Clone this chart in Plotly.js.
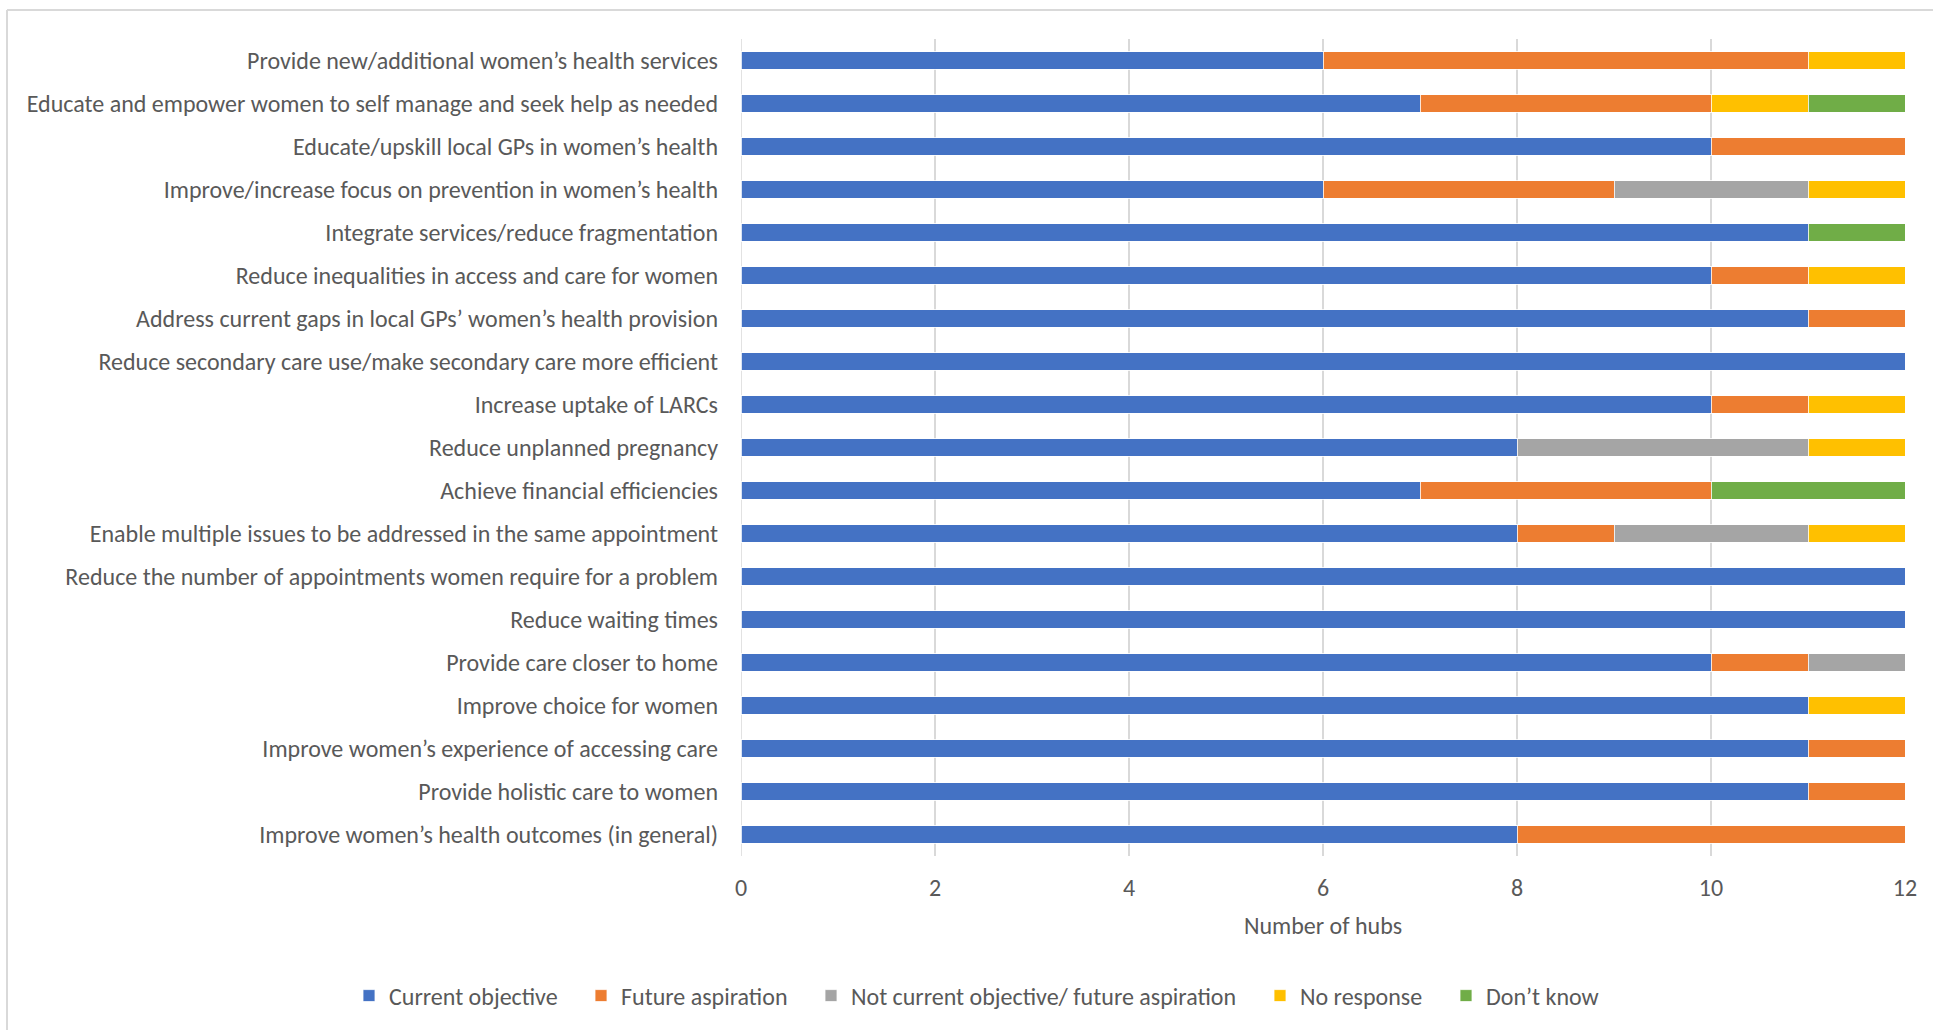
<!DOCTYPE html>
<html>
<head>
<meta charset="utf-8">
<script src="https://cdn.plot.ly/plotly-3.0.1.min.js"></script>
<style>
  html, body { margin: 0; padding: 0; background: #ffffff; }
  #chart { width: 1933px; height: 1030px; }
</style>
</head>
<body>
<div id="chart"></div>
<script>
// Hub objectives, listed top to bottom
const objectives = [
  "Provide new/additional women\u2019s health services",
  "Educate and empower women to self manage and seek help as needed",
  "Educate/upskill local GPs in women\u2019s health",
  "Improve/increase focus on prevention in women\u2019s health",
  "Integrate services/reduce fragmentation",
  "Reduce inequalities in access and care for women",
  "Address current gaps in local GPs\u2019 women\u2019s health provision",
  "Reduce secondary care use/make secondary care more efficient",
  "Increase uptake of LARCs",
  "Reduce unplanned pregnancy",
  "Achieve financial efficiencies",
  "Enable multiple issues to be addressed in the same appointment",
  "Reduce the number of appointments women require for a problem",
  "Reduce waiting times",
  "Provide care closer to home",
  "Improve choice for women",
  "Improve women\u2019s experience of accessing care",
  "Provide holistic care to women",
  "Improve women\u2019s health outcomes (in general)"
];

// Number of hubs per response, same order as objectives
const currentObjective = [6, 7, 10, 6, 11, 10, 11, 12, 10, 8, 7, 8, 12, 12, 10, 11, 11, 11, 8];
const futureAspiration = [5, 3, 2, 3, 0, 1, 1, 0, 1, 0, 3, 1, 0, 0, 1, 0, 1, 1, 4];
const notCurrentOrFuture = [0, 0, 0, 2, 0, 0, 0, 0, 0, 3, 0, 2, 0, 0, 1, 0, 0, 0, 0];
const noResponse = [1, 1, 0, 1, 0, 1, 0, 0, 1, 1, 0, 1, 0, 0, 0, 1, 0, 0, 0];
const dontKnow = [0, 1, 0, 0, 1, 0, 0, 0, 0, 0, 2, 0, 0, 0, 0, 0, 0, 0, 0];

const seriesNames = [
  "Current objective",
  "Future aspiration",
  "Not current objective/ future aspiration",
  "No response",
  "Don\u2019t know"
];
const seriesColors = ["#4472C4", "#ED7D31", "#A5A5A5", "#FFC000", "#70AD47"];
const seriesValues = [currentObjective, futureAspiration, notCurrentOrFuture, noResponse, dontKnow];

const FONT = "Carlito, Calibri, 'Liberation Sans Narrow', Roboto, sans-serif";
const TEXT = "#595959";

// Plot area in pixels: left 741, right 1905, top 39, bottom 856
const L = 741, R = 1905, T = 39, B = 856, W = 1933, H = 1030;
const px = v => (v - L) / (R - L);
const py = v => (B - v) / (B - T);

// Each series gets its own one-entry legend so the entries can be spaced out in a single row
const legendTextLeft = [387, 619, 849, 1298, 1484];
const legendIds = seriesNames.map((_, i) => (i === 0 ? "legend" : "legend" + (i + 1)));

const traces = seriesValues.map((vals, i) => ({
  type: "bar",
  orientation: "h",
  name: seriesNames[i],
  x: vals,
  y: objectives,
  legend: legendIds[i],
  marker: { color: seriesColors[i], line: { color: "#ffffff", width: 0.8 } },
  hoverinfo: "name+x"
}));

const layout = {
  width: W,
  height: H,
  barmode: "stack",
  bargap: 0.6,
  paper_bgcolor: "#ffffff",
  plot_bgcolor: "#ffffff",
  margin: { l: L, r: W - R, t: T, b: H - B, pad: 0, autoexpand: false },
  font: { family: FONT, size: 24, color: TEXT },
  showlegend: true,
  xaxis: {
    range: [0, 12],
    dtick: 2,
    tick0: 0,
    showgrid: true,
    gridcolor: "#D9D9D9",
    gridwidth: 1.5,
    zeroline: false,
    showline: false,
    ticks: "",
    ticklabelstandoff: 15,
    tickfont: { family: FONT, size: 24, color: TEXT },
    title: { text: "Number of hubs", font: { family: FONT, size: 24, color: TEXT }, standoff: 16 },
    fixedrange: true
  },
  yaxis: {
    type: "category",
    autorange: "reversed",
    showgrid: false,
    zeroline: false,
    showline: false,
    ticks: "",
    ticklabelstandoff: 22,
    tickfont: { family: FONT, size: 24, color: TEXT },
    fixedrange: true
  },
  shapes: [
    // gridline at zero
    { type: "line", xref: "x", yref: "paper", x0: 0, x1: 0, y0: 0, y1: 1,
      line: { color: "#D9D9D9", width: 1.5 }, layer: "below" },
    // chart frame (top and left edges)
    { type: "line", xref: "paper", yref: "paper", x0: px(7), x1: px(1960), y0: py(10), y1: py(10),
      line: { color: "#D9D9D9", width: 2 } },
    { type: "line", xref: "paper", yref: "paper", x0: px(7), x1: px(7), y0: py(10), y1: py(1060),
      line: { color: "#D9D9D9", width: 2 } }
  ]
};

legendIds.forEach((id, i) => {
  layout[id] = {
    orientation: "h",
    x: px(legendTextLeft[i] - 38),
    xanchor: "left",
    y: py(996),
    yanchor: "middle",
    font: { family: FONT, size: 24, color: TEXT },
    itemwidth: 30,
    bgcolor: "rgba(0,0,0,0)"
  };
});

Plotly.newPlot("chart", traces, layout, { displayModeBar: false, staticPlot: true });
</script>
</body>
</html>
